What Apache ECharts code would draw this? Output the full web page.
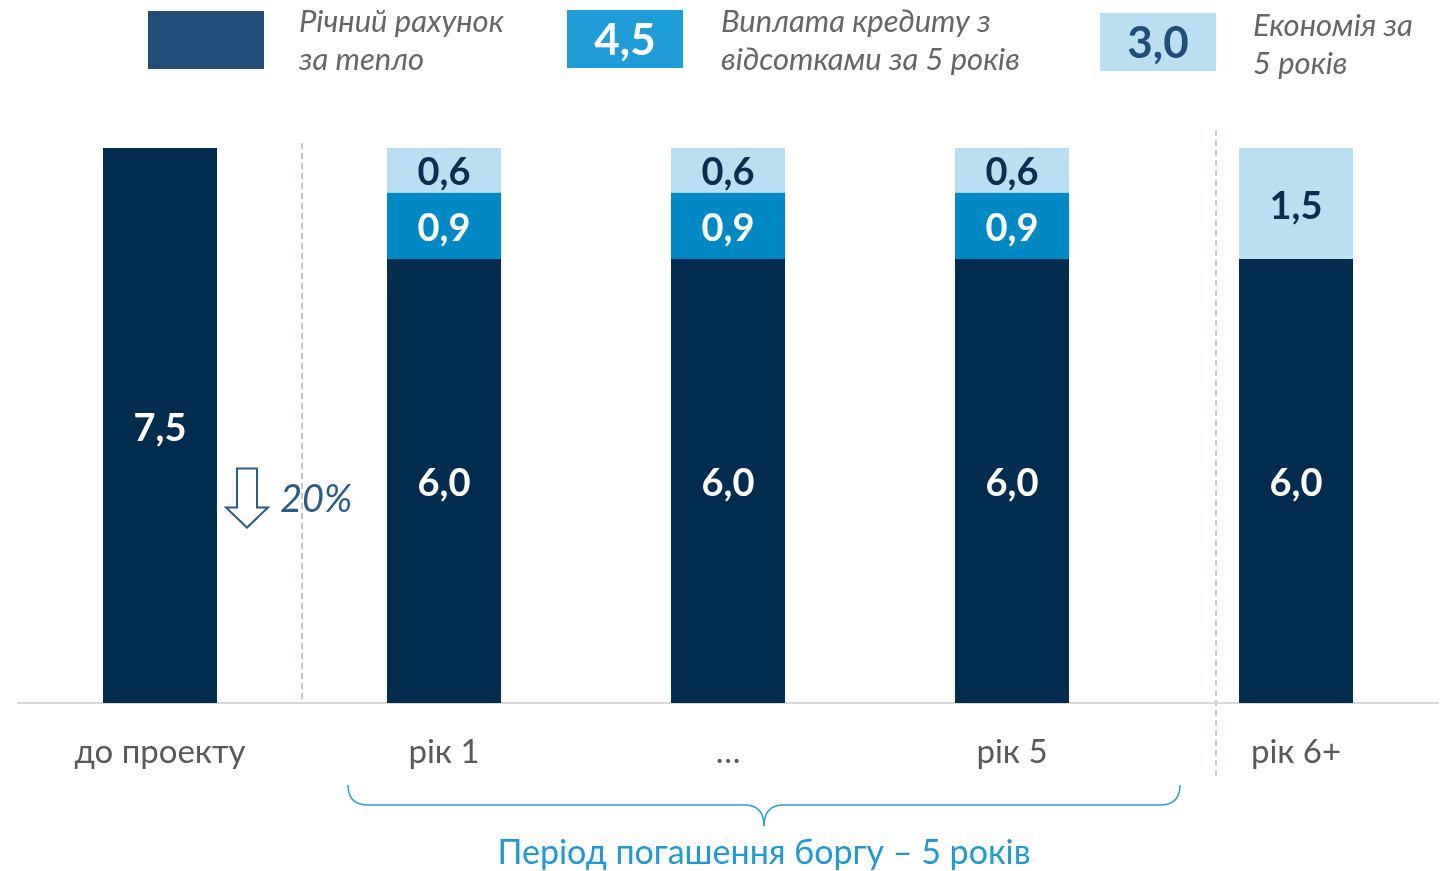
<!DOCTYPE html>
<html>
<head>
<meta charset="utf-8">
<script src="https://cdn.jsdelivr.net/npm/echarts@6/dist/echarts.min.js"></script>
<style>
  html, body { margin: 0; padding: 0; background: #fff; }
  #chart { width: 1448px; height: 871px; }
</style>
</head>
<body>
<div id="chart"></div>
<script>
const categories = ['до проекту', 'рік 1', '…', 'рік 5', 'рік 6+'];
const heatBill = [7.5, 6.0, 6.0, 6.0, 6.0];
const loanPayment = [0, 0.9, 0.9, 0.9, 0];
const savings = [0, 0.6, 0.6, 0.6, 1.5];

const legendNames = [['Річний рахунок', 'за тепло'], ['Виплата кредиту з', 'відсотками за 5 років'], ['Економія за', '5 років']];
const legendTotals = ['', '4,5', '3,0'];
const periodText = 'Період погашення боргу – 5 років';

const FONT = 'Lato';
const DARK = '#022d51';
const MID = '#0089c5';
const LIGHT = '#b9e0f2';

const fmt = v => v ? v.toFixed(1).replace('.', ',') : '';

const chart = echarts.init(document.getElementById('chart'));

const barLabel = color => ({
  show: true,
  position: 'inside',
  offset: [0, 3],
  color: color,
  fontFamily: FONT,
  fontWeight: 'bold',
  fontSize: 38,
  formatter: p => fmt(p.value)
});

chart.setOption({
  animation: false,
  grid: { left: 18, right: 10, top: 148, bottom: 168 },
  xAxis: {
    type: 'category',
    data: categories,
    axisTick: { show: false },
    axisLine: { lineStyle: { color: '#d9d9d9', width: 2 } },
    axisLabel: { color: '#595959', fontFamily: FONT, fontSize: 33, margin: 33 }
  },
  yAxis: { type: 'value', min: 0, max: 7.5, show: false },
  series: [
    { name: 'bill', type: 'bar', stack: 'a', barWidth: 114, data: heatBill,
      itemStyle: { color: DARK }, label: barLabel('#fff') },
    { name: 'loan', type: 'bar', stack: 'a', barWidth: 114, data: loanPayment,
      itemStyle: { color: MID }, label: barLabel('#fff') },
    { name: 'save', type: 'bar', stack: 'a', barWidth: 114, data: savings,
      itemStyle: { color: LIGHT }, label: barLabel('#0a2d50') }
  ]
});

// decorations positioned from the axis scale
const px = i => chart.convertToPixel({ xAxisIndex: 0 }, categories[i]);
const py = v => chart.convertToPixel({ yAxisIndex: 0 }, v);
const base = py(0);
const div1 = (px(0) + px(1)) / 2;
const div2 = px(4) - 80;
const arrowX = px(0) + 87;
const drop = Math.round((heatBill[0] - heatBill[1]) / heatBill[0] * 100) + '%';
const bL = px(1) - 96, bR = px(3) + 168, bM = (bL + bR) / 2;
const bTop = base + 82, bY = base + 102, bTip = base + 123;
const braceStyle = { stroke: '#2a9fd8', lineWidth: 1.5, fill: null };

const graphics = [];
// dashed dividers
graphics.push({ type: 'line', shape: { x1: div1, y1: 143, x2: div1, y2: base - 2 },
  style: { stroke: '#9fbdd8', lineWidth: 1.5, lineDash: [6, 4] } });
graphics.push({ type: 'line', shape: { x1: div2, y1: 130, x2: div2, y2: base + 77 },
  style: { stroke: '#9fbdd8', lineWidth: 1.5, lineDash: [6, 4] } });
// down arrow + percent
const ay = py(2.75);
graphics.push({ type: 'polygon', shape: { points: [
  [arrowX - 10, ay - 31], [arrowX + 10, ay - 31], [arrowX + 10, ay + 8], [arrowX + 21, ay + 8],
  [arrowX, ay + 28], [arrowX - 21, ay + 8], [arrowX - 10, ay + 8]] },
  style: { fill: '#fff', stroke: '#2c5b87', lineWidth: 2 } });
graphics.push({ type: 'text', x: arrowX + 33, y: ay,
  style: { text: drop, fill: '#2c5b87', font: 'italic 38px ' + FONT, verticalAlign: 'middle' } });
// brace under years 1-5
graphics.push({ type: 'bezierCurve', shape: { x1: bL, y1: bTop, cpx1: bL, cpy1: bY, x2: bL + 20, y2: bY }, style: braceStyle });
graphics.push({ type: 'line', shape: { x1: bL + 20, y1: bY, x2: bM - 20, y2: bY }, style: braceStyle });
graphics.push({ type: 'bezierCurve', shape: { x1: bM - 20, y1: bY, cpx1: bM, cpy1: bY, x2: bM, y2: bTip }, style: braceStyle });
graphics.push({ type: 'bezierCurve', shape: { x1: bM + 20, y1: bY, cpx1: bM, cpy1: bY, x2: bM, y2: bTip }, style: braceStyle });
graphics.push({ type: 'line', shape: { x1: bM + 20, y1: bY, x2: bR - 20, y2: bY }, style: braceStyle });
graphics.push({ type: 'bezierCurve', shape: { x1: bR - 20, y1: bY, cpx1: bR, cpy1: bY, x2: bR, y2: bTop }, style: braceStyle });
graphics.push({ type: 'text', x: bM, y: base + 150,
  style: { text: periodText, fill: '#1e9ad6', font: '34px ' + FONT, align: 'center', verticalAlign: 'middle' } });

// legend
const legendBoxes = [
  { x: 148, y: 11, color: '#1f4e79', textColor: '#fff', tx: 299, ty: 22 },
  { x: 567, y: 10, color: '#1e9dd8', textColor: '#fff', tx: 721, ty: 22 },
  { x: 1100, y: 13, color: LIGHT, textColor: '#1f4e79', tx: 1253, ty: 26 }
];
legendBoxes.forEach((b, i) => {
  graphics.push({ type: 'rect', shape: { x: b.x, y: b.y, width: 116, height: 58 }, style: { fill: b.color } });
  graphics.push({ type: 'text', x: b.x + 58, y: b.y + 31,
    style: { text: legendTotals[i], fill: b.textColor, font: 'bold 44px ' + FONT, align: 'center', verticalAlign: 'middle' } });
  legendNames[i].forEach((line, j) => {
    graphics.push({ type: 'text', x: b.tx, y: b.ty + j * 38,
      style: { text: line, fill: '#666', font: 'italic 31px ' + FONT, verticalAlign: 'middle' } });
  });
});

chart.setOption({ graphic: graphics });
</script>
</body>
</html>
